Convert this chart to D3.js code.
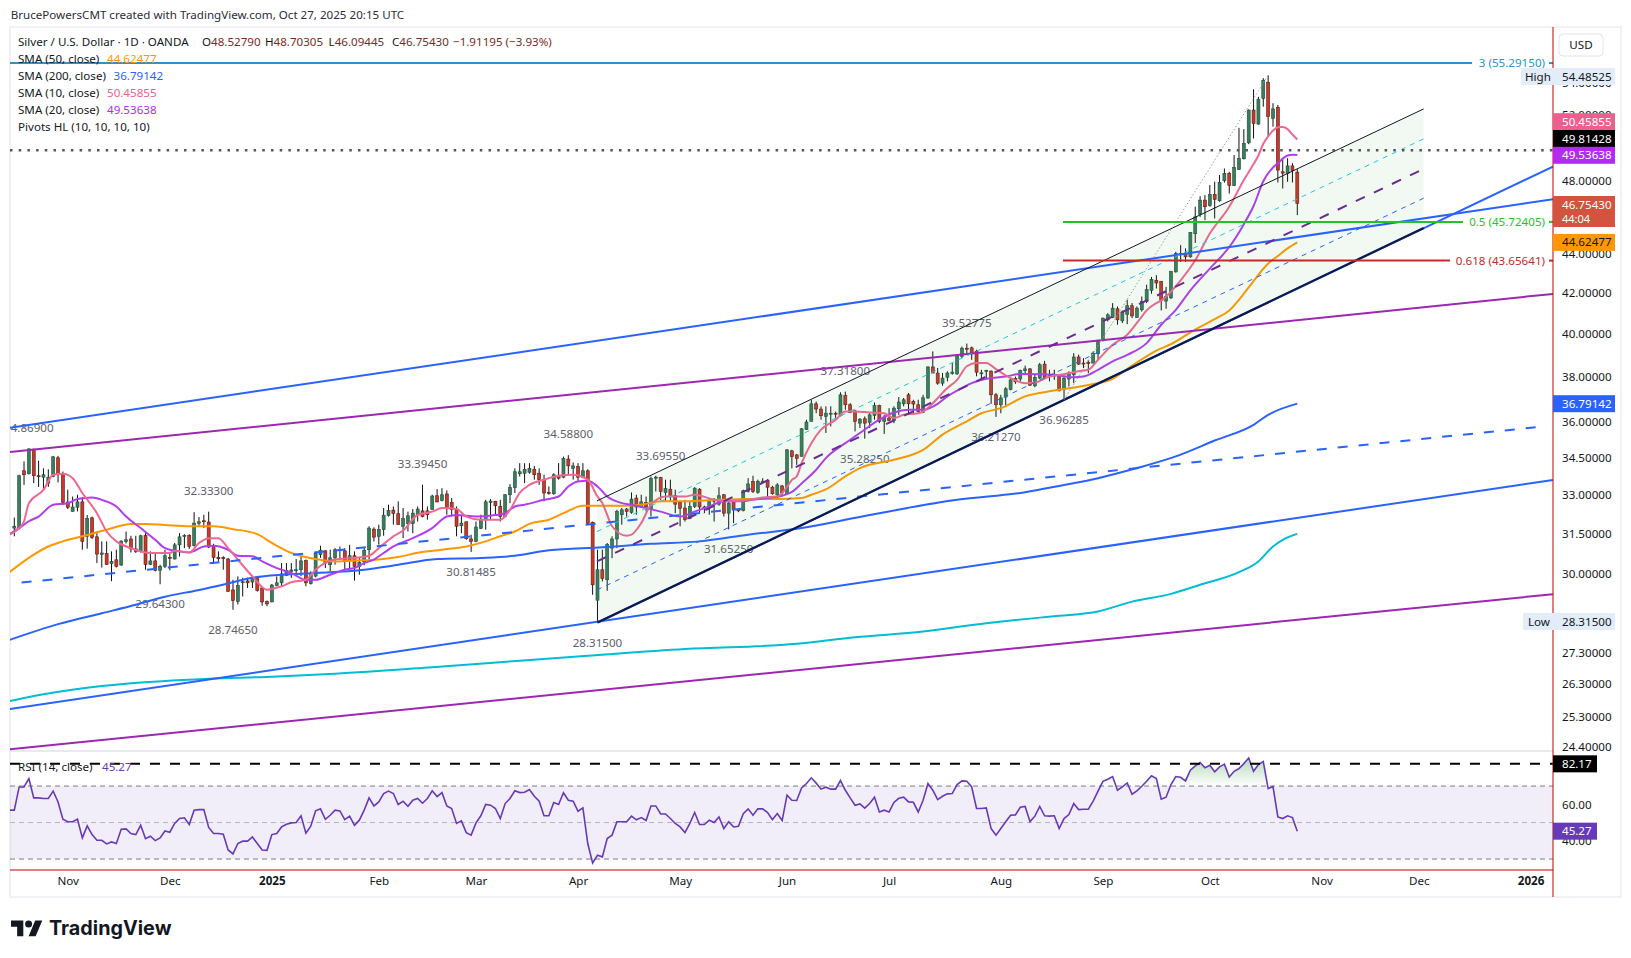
<!DOCTYPE html>
<html>
<head>
<meta charset="utf-8">
<title>Silver / U.S. Dollar</title>
<script src="https://cdnjs.cloudflare.com/ajax/libs/d3/7.8.5/d3.min.js"></script>
<style>
  body { margin: 0; background: #fff; }
  svg text { font-family: "Noto Sans", sans-serif; font-size: 11.6px; fill: #131722; }
</style>
</head>
<body>
<svg id="chart" width="1631" height="958"></svg>
<script>
// daily candles, bar 0 is the first whole candle on the left
var barOpen = [
  31.70,31.70,33.95,33.83,34.84,33.75,33.69,33.45,33.72,34.48,
  33.79,32.70,32.34,32.50,32.71,31.39,32.09,31.37,30.72,30.75,
  30.38,30.52,30.33,31.19,31.29,30.92,30.83,31.42,30.35,30.48,
  30.14,30.28,30.61,30.55,31.07,31.40,31.42,31.04,31.88,31.98,
  31.93,31.01,30.61,30.60,30.55,29.44,29.04,29.71,29.76,29.72,
  29.88,29.51,29.03,29.02,29.59,29.69,29.96,30.09,30.14,30.16,
  30.49,29.66,29.93,30.71,30.85,30.34,30.59,30.87,30.85,30.48,
  30.67,30.27,30.44,30.89,31.66,31.39,31.64,32.18,32.39,32.25,
  31.77,31.87,31.87,32.21,32.36,32.36,32.41,32.95,32.76,33.02,
  32.69,32.43,31.79,31.94,31.29,31.20,31.69,32.02,32.69,32.73,
  32.53,32.14,32.99,33.27,33.83,33.85,33.89,34.01,33.85,33.59,
  33.08,33.03,33.77,33.69,34.43,34.05,34.12,33.69,33.95,31.92,
  29.08,30.16,29.80,30.95,31.29,32.21,32.43,32.30,32.86,32.51,
  32.69,32.43,33.65,33.68,33.08,33.21,32.95,32.69,32.47,32.07,
  32.53,33.21,32.51,32.50,32.79,32.62,32.99,32.27,32.69,32.41,
  32.37,33.12,33.52,33.08,33.50,33.56,33.29,32.99,33.34,33.03,
  34.77,34.60,34.54,35.66,36.02,36.78,36.55,36.23,36.34,36.37,
  36.26,37.15,36.74,36.47,35.94,36.13,35.97,36.27,36.70,36.02,
  36.16,36.06,36.56,36.78,37.18,36.89,36.74,36.40,37.04,38.44,
  38.16,37.70,37.97,38.14,38.12,38.93,39.31,39.33,39.17,38.14,
  38.25,38.25,37.18,36.74,37.08,37.41,37.91,37.89,38.27,38.35,
  37.58,37.93,38.57,38.10,38.07,38.05,37.41,37.89,38.08,38.90,
  38.62,38.66,38.62,39.05,39.71,40.67,40.78,41.21,40.62,40.94,
  41.36,40.78,41.16,41.57,42.13,42.64,42.59,41.59,41.75,43.07,
  43.96,44.03,43.85,45.08,46.15,46.93,46.62,47.24,46.89,48.03,
  48.45,47.76,48.68,49.31,50.26,52.27,51.40,53.00,54.04,51.75,
  52.44,48.55,48.46,48.89,48.5279];
var barClose = [
  31.77,33.75,33.79,34.85,33.75,33.71,33.79,33.69,34.52,33.79,
  32.69,32.50,32.51,32.71,31.20,32.07,31.35,30.73,30.77,30.35,
  30.46,30.28,31.21,31.26,30.92,30.83,31.41,30.35,30.48,30.14,
  30.28,30.67,30.57,31.07,31.37,31.42,31.01,31.89,31.94,31.94,
  30.99,30.61,30.56,30.57,29.39,29.07,29.59,29.73,29.69,29.87,
  29.42,29.02,28.95,29.61,29.69,30.01,30.13,30.15,30.16,30.48,
  29.69,29.98,30.75,30.87,30.40,30.59,30.89,30.89,30.46,30.67,
  30.28,30.43,30.87,31.70,31.36,31.64,32.19,32.37,32.26,31.83,
  32.07,32.17,32.27,32.43,32.14,32.21,32.94,32.71,32.99,32.47,
  32.41,31.77,31.89,31.30,31.20,31.74,32.04,32.71,32.74,32.56,
  32.14,32.99,33.27,33.91,33.91,34.01,34.05,33.79,33.59,33.06,
  33.04,33.79,33.65,34.45,34.15,34.15,33.69,33.95,31.87,29.62,
  30.16,29.84,31.08,31.29,32.33,32.40,32.34,32.82,32.51,32.71,
  32.51,33.63,33.69,33.12,33.24,32.92,32.62,32.46,32.02,32.53,
  33.25,32.51,32.47,32.76,32.74,32.95,32.27,32.66,32.41,32.36,
  33.15,33.42,33.12,33.52,33.53,33.29,33.03,33.38,33.06,34.81,
  34.53,34.46,35.70,35.99,36.78,36.55,36.26,36.37,36.37,36.34,
  37.18,36.74,36.40,36.02,36.11,35.94,36.30,36.70,36.02,36.18,
  36.06,36.59,36.86,36.96,36.78,36.77,36.44,37.05,38.44,38.16,
  37.70,37.93,38.16,38.20,38.96,39.31,39.27,39.08,38.20,38.17,
  38.28,37.18,36.74,37.04,37.45,37.85,37.76,38.28,38.35,37.61,
  37.96,38.54,37.96,38.04,38.04,37.36,37.93,38.16,38.90,38.57,
  38.59,38.59,39.08,39.68,40.75,40.91,41.24,40.67,41.04,41.36,
  40.86,41.24,41.57,42.17,42.69,42.50,41.62,41.82,43.08,44.03,
  44.03,43.85,45.15,46.00,46.93,46.56,47.24,46.97,47.94,48.45,
  47.76,48.80,49.33,50.22,52.27,51.44,52.94,54.17,51.86,52.34,
  48.65,48.47,48.89,48.62,46.7543];
var barHigh = [
  32.10,33.79,34.33,34.87,34.86,34.36,34.05,34.01,34.56,34.56,
  33.92,33.19,32.92,32.99,32.90,32.20,32.14,31.57,31.20,31.20,
  30.83,30.89,31.24,31.57,31.41,31.41,31.45,31.51,30.83,30.77,
  30.34,30.89,30.75,31.14,31.51,31.47,31.47,32.31,32.12,32.21,
  32.33,31.11,30.83,30.65,30.59,29.80,29.92,29.87,29.87,29.92,
  29.92,29.53,29.07,29.65,29.92,30.40,30.40,30.40,30.55,30.73,
  30.53,30.10,30.80,31.04,30.87,30.89,30.95,31.01,30.95,31.07,
  30.83,30.59,30.95,31.77,31.73,31.83,32.47,32.60,32.53,32.73,
  32.47,32.33,32.43,32.53,33.39,32.53,32.99,33.21,33.25,33.16,
  32.86,32.53,32.21,31.95,31.45,31.95,32.21,32.79,32.82,32.75,
  32.79,33.02,33.41,34.05,34.26,34.26,34.26,34.15,34.05,33.79,
  33.32,33.85,34.26,34.53,34.59,34.29,34.26,34.26,34.01,31.95,
  30.89,30.89,31.14,31.39,32.40,32.47,32.47,33.08,32.99,32.99,
  32.92,33.72,33.75,33.70,33.59,33.59,33.19,32.73,32.79,32.73,
  33.29,33.25,32.56,32.86,32.86,33.29,33.02,32.73,32.73,32.43,
  33.19,33.65,33.75,33.59,33.65,33.61,33.34,33.45,33.38,34.84,
  34.81,34.64,35.73,36.09,36.96,36.88,36.67,36.67,36.67,36.44,
  37.29,37.32,36.81,36.52,36.16,36.23,36.37,36.84,36.74,36.30,
  36.59,36.67,37.08,37.04,37.26,36.96,36.96,37.18,38.47,39.16,
  38.39,38.16,38.24,38.62,39.01,39.39,39.53,39.39,39.24,38.31,
  38.31,38.28,37.26,37.18,37.52,37.88,38.00,38.31,38.50,38.39,
  38.08,38.62,38.72,38.31,38.31,38.08,38.00,38.24,39.08,39.01,
  38.85,38.77,39.16,39.71,40.78,40.99,41.49,41.32,41.12,41.66,
  41.49,41.32,41.82,42.41,42.81,42.90,42.60,42.30,43.12,44.12,
  44.47,44.30,45.17,46.56,47.15,47.21,47.78,47.98,48.36,48.74,
  48.55,49.53,51.17,51.09,52.31,53.58,53.10,54.30,54.485,52.70,
  52.59,49.28,49.34,49.05,48.70305];
var barLow = [
  31.39,31.65,33.38,33.80,33.45,33.30,33.16,33.30,33.69,33.48,
  32.60,32.43,32.34,32.34,30.89,30.93,31.29,30.40,30.24,30.34,
  29.75,30.24,30.30,31.12,30.79,30.77,30.79,30.16,30.33,30.10,
  29.64,30.22,30.14,30.53,30.64,30.95,30.92,31.01,31.79,31.70,
  30.95,30.37,30.46,30.16,29.38,28.75,28.93,29.21,29.51,29.51,
  29.38,28.89,28.87,29.01,29.57,29.57,29.93,29.87,30.04,29.93,
  29.57,29.63,29.89,30.59,30.22,30.10,30.34,30.52,30.18,30.16,
  29.77,29.98,30.32,30.53,31.20,31.08,31.41,32.14,31.83,31.83,
  31.32,31.57,31.51,31.95,32.11,32.02,32.41,32.69,32.73,32.21,
  32.14,31.39,31.51,31.26,30.81,31.17,31.66,31.64,32.02,32.21,
  31.95,32.11,32.66,33.06,33.72,33.45,33.83,33.59,33.38,32.73,
  32.99,32.99,33.59,33.65,33.79,33.59,33.52,33.65,31.83,29.27,
  28.315,29.74,29.41,30.58,30.95,31.83,32.14,32.25,32.21,32.47,
  32.34,32.14,33.12,32.79,32.73,32.73,32.27,31.77,31.95,32.04,
  32.47,32.25,32.27,32.21,31.95,32.56,32.14,31.65,31.89,32.31,
  32.34,33.08,33.06,33.03,33.45,32.86,32.99,32.79,32.99,32.99,
  34.05,34.19,34.54,35.66,36.02,36.37,36.09,35.52,35.80,36.16,
  36.23,36.52,36.37,35.59,35.73,35.28,35.73,36.09,35.94,35.48,
  36.02,35.94,36.30,36.67,36.37,36.37,36.40,36.37,37.00,38.16,
  37.63,37.58,37.78,38.08,38.08,38.85,39.08,38.77,38.01,37.93,
  37.93,36.78,36.21,36.37,36.70,37.38,37.67,37.78,38.08,37.58,
  37.52,37.88,37.93,37.78,37.85,37.33,36.96,37.55,37.70,38.54,
  38.39,38.16,38.59,38.77,39.63,40.59,40.75,40.43,40.51,40.46,
  40.75,40.78,41.07,41.49,41.96,42.22,41.13,41.21,41.70,43.03,
  43.58,43.58,43.81,44.59,46.00,45.82,46.56,45.91,46.84,47.92,
  47.30,47.72,48.65,49.27,50.18,50.52,51.36,52.48,50.64,51.24,
  47.93,47.59,47.97,47.93,46.09445];

// moving averages, read at the turning points of each line
var sma10Bars = [-1,1,2,3,6,8,10,12,14,17,19,21,24,27,29,32,33,36,38,40,42,44,46,49,52,55,57,60,62,66,
  70,73,75,78,80,83,86,88,91,93,96,100,102,104,106,109,112,115,118,120,121,122,123,126,127,129,131,134,138,140,
  144,147,151,154,157,159,160,161,162,164,166,169,171,173,176,179,181,183,186,187,189,192,194,196,198,200,202,205,208,210,
  213,216,219,221,223,226,229,232,233,235,236,240,243,246,250,253,255,256,257,258,259,260,261,262,263,264];
var sma10Values = [31.45,31.70,31.96,32.66,33.18,33.79,33.83,33.65,33.06,32.27,31.57,31.20,30.95,30.79,30.77,30.77,30.85,30.79,31.14,31.32,31.32,30.95,30.53,29.92,29.45,29.57,29.71,29.80,30.16,30.53,
  30.59,30.67,30.95,31.39,31.61,32.20,32.33,32.47,32.43,32.14,32.02,32.02,32.40,33.06,33.38,33.59,33.75,33.79,33.59,32.92,32.66,32.20,31.77,31.41,31.45,31.89,32.60,32.92,32.92,32.99,
  32.79,32.73,32.79,32.88,32.92,33.30,33.58,33.72,34.26,35.09,35.66,36.08,36.44,36.44,36.40,36.37,36.16,36.30,36.37,36.44,36.81,37.48,37.85,38.47,38.62,38.62,38.34,37.93,37.70,37.73,
  38.00,38.11,38.24,38.31,38.77,39.47,39.95,40.83,41.13,41.49,41.62,42.64,43.67,45.09,46.56,48.07,49.00,49.50,50.20,50.65,51.00,51.20,51.22,51.09,50.76,50.46];
var sma20Bars = [-1,1,3,5,8,11,13,16,18,21,23,26,29,31,34,36,39,41,44,46,49,51,54,57,60,62,65,68,70,72,
  74,76,78,82,86,89,91,95,99,101,103,105,109,112,114,116,118,120,122,125,127,130,133,137,140,143,146,149,152,155,
  158,160,162,165,167,171,174,178,181,184,187,190,192,195,197,201,204,207,211,214,218,220,223,226,229,233,236,239,242,246,
  250,253,255,257,259,260,262,263,264];
var sma20Values = [31.47,31.70,31.96,32.14,32.60,32.66,32.82,32.88,32.79,32.53,32.14,31.70,31.26,30.95,30.83,30.79,31.01,31.04,30.89,30.67,30.65,30.46,30.22,30.04,29.80,29.80,29.98,30.16,30.22,30.40,
  30.53,30.77,31.01,31.32,31.70,32.14,32.20,32.14,32.20,32.27,32.53,32.60,32.79,32.92,33.32,33.52,33.55,33.32,32.92,32.66,32.60,32.47,32.33,32.14,32.33,32.53,32.73,32.73,32.79,32.86,
  32.95,33.10,33.44,33.99,34.47,35.09,35.52,36.09,36.40,36.52,36.52,36.78,37.11,37.48,37.70,37.93,38.00,38.12,38.11,38.08,37.97,38.00,38.31,38.70,39.00,39.55,40.43,41.16,42.13,43.24,
  44.37,45.60,46.60,48.00,48.80,49.05,49.50,49.55,49.54];
var sma50Bars = [-1,4,7,10,14,19,24,27,31,36,41,45,50,53,57,62,66,70,75,79,83,88,93,97,100,103,106,110,113,117,
  121,125,129,133,138,145,151,157,162,164,167,171,174,181,187,191,196,199,203,208,214,221,226,230,235,238,243,247,250,253,
  255,258,260,262,264];
var sma50Values = [30.07,30.71,31.01,31.20,31.39,31.64,31.86,31.86,31.82,31.77,31.77,31.66,31.47,31.14,30.77,30.55,30.46,30.49,30.53,30.62,30.78,30.89,31.01,31.20,31.39,31.57,31.86,32.02,32.27,32.56,
  32.56,32.56,32.60,32.73,32.73,32.79,32.82,32.82,32.86,32.99,33.20,33.72,34.06,34.40,34.81,35.45,36.02,36.37,36.59,37.11,37.37,37.62,37.90,38.50,39.20,39.50,40.20,40.70,41.13,41.96,
  42.60,43.50,43.90,44.30,44.62];
var sma200Bars = [-1,9,18,25,31,38,44,49,55,62,72,79,87,96,103,110,121,131,141,151,162,176,194,208,215,223,231,239,247,255,258,264];
var sma200Values = [27.73,28.26,28.63,28.92,29.20,29.44,29.67,29.87,29.98,30.04,30.16,30.34,30.55,30.59,30.67,30.87,30.98,31.11,31.20,31.45,31.70,32.20,32.79,33.09,33.34,33.65,34.06,34.54,35.20,35.87,36.30,36.79];
var tealBars = [-1,4,13,24,40,52,66,86,104,118,138,161,173,187,200,211,215,223,230,238,244,252,256,259,261,264];
var tealValues = [25.77,25.93,26.15,26.33,26.47,26.53,26.63,26.84,27.05,27.21,27.43,27.60,27.82,28.01,28.29,28.48,28.54,28.69,29.03,29.30,29.62,30.07,30.46,31.01,31.26,31.48];

// RSI pane, first value belongs to bar -1
var rsiValues = [56.8,56.8,69.5,69.5,74.1,63.5,63.5,63.2,63.2,67.2,61.3,51.8,50.4,50.4,51.8,41.6,48.2,43.4,40.3,40.3,
  38.3,39.4,38.5,46.3,46.5,44.0,43.4,48.5,41.2,42.5,40.1,41.6,45.4,44.7,49.5,52.2,52.6,48.9,56.8,57.1,
  57.1,47.3,44.0,44.0,43.6,35.0,32.8,38.5,39.8,39.8,42.1,38.5,35.0,34.8,43.4,44.0,47.6,49.1,49.8,50.0,
  53.7,44.2,48.0,56.4,57.5,51.8,54.0,56.8,56.4,51.6,53.5,48.5,51.3,56.8,63.5,59.1,61.3,65.9,67.2,65.9,
  59.9,61.7,58.9,62.2,63.2,60.6,63.2,67.4,64.2,66.4,59.1,57.7,49.5,50.9,44.5,43.1,49.8,53.7,59.9,59.5,
  57.7,52.2,60.4,63.2,67.4,66.4,66.6,68.1,64.4,61.7,53.7,53.7,61.0,59.9,66.3,62.2,61.7,56.2,58.0,38.5,
  27.9,32.1,31.2,41.2,43.1,50.4,50.4,50.4,53.5,51.5,52.7,51.1,59.1,59.1,54.7,54.7,52.2,49.5,47.6,44.5,
  49.5,55.5,48.9,48.9,51.3,50.0,53.1,46.7,50.4,47.6,48.0,54.9,57.5,54.0,57.5,57.5,55.5,51.6,54.9,51.1,
  65.0,62.2,62.1,69.0,71.4,74.5,71.6,68.3,69.4,68.3,68.3,73.0,67.7,63.5,59.5,60.2,57.9,60.4,63.9,55.8,
  56.8,55.8,61.0,63.3,63.9,61.3,61.1,55.8,62.2,71.4,67.7,62.6,64.4,65.7,65.9,70.8,72.8,72.6,69.5,57.7,
  57.7,58.0,46.7,43.1,46.7,50.4,54.0,54.2,58.4,58.8,50.5,53.5,58.8,53.7,53.5,53.7,46.7,52.2,54.4,60.4,
  57.1,57.3,57.3,61.7,67.2,72.6,73.7,75.2,67.7,69.5,71.7,65.5,67.4,69.9,72.6,75.6,74.1,62.8,63.9,70.8,
  75.2,74.8,72.8,78.7,81.0,82.9,80.0,81.4,77.8,80.5,82.0,75.0,78.1,79.6,82.3,85.4,78.1,81.8,83.4,68.6,
  69.7,53.1,52.2,53.7,52.7,45.27];
var rsiTicks = [60, 40];
var rsiBands = [70, 50, 30];
var rsiLevel = 82.17;

// pivot labels
var pivotHighBars = [3, 40, 84, 114, 133, 171, 196];
var pivotHighs = [34.869, 32.333, 33.3945, 34.588, 33.6955, 37.318, 39.52775];
var pivotLowBars = [30, 45, 94, 120, 147, 175, 202, 216];
var pivotLows = [29.643, 28.7465, 30.81485, 28.315, 31.6525, 35.2825, 36.2127, 36.96285];

// axes, 50 and 46 sit behind the price tags in the original
var priceTicks = [54, 52, 48, 44, 42, 40, 38, 36, 34.5, 33, 31.5, 30, 28.5, 27.3, 26.3, 25.3, 24.4];
var monthBars = [11, 32, 53, 75, 95, 116, 137, 159, 180, 203, 224, 246, 269, 289, 312];
var monthNames = ["Nov", "Dec", "2025", "Feb", "Mar", "Apr", "May", "Jun", "Jul", "Aug", "Sep", "Oct", "Nov", "Dec", "2026"];

// hand drawn trend lines: [bar, price, bar, price]
var channelTop = [119.9, 32.75, 290, 52.34];
var channelUpperMid = [119.9, 31.57, 290, 50.50];
var channelMid = [119.9, 30.46, 289.6, 48.66];
var channelLowerMid = [119.9, 29.44, 290, 47.04];
var channelBottom = [120, 28.315, 290, 45.39];
var blueSteep = [120, 28.315, 316.6, 48.85];
var blueUpper = [-1, 35.74, 316.6, 46.98];
var blueLower = [-1, 25.53, 316.6, 33.58];
var blueDashed = [1.5, 29.70, 314.3, 35.79];
var purpleUpper = [-1, 34.72, 316.6, 41.95];
var purpleLower = [-1, 24.33, 316.6, 29.29];
var swingDotted = [216, 36.96285, 258, 54.485];
var dottedLevel = 49.81428;
var fibValues = [55.2915, 45.72405, 43.65641];
var fibNames = ["3 (55.29150)", "0.5 (45.72405)", "0.618 (43.65641)"];

var svg = d3.select("#chart");

var left = 10, right = 1553, priceTop = 28, priceBottom = 751, rsiBottom = 870, frameBottom = 897;
var green = "#3a7d5c", red = "#c8392b";

var x = d3.scaleLinear().domain([0, 264]).range([14.3, 1297.3]);
var y = d3.scaleLog().domain([24.28, 57.66]).range([priceBottom, priceTop]);
var yRsi = d3.scaleLinear().domain([24, 89.2]).range([rsiBottom, priceBottom]);

var defs = svg.append("defs");
defs.append("clipPath").attr("id", "priceClip").append("rect")
  .attr("x", left).attr("y", priceTop).attr("width", right - left).attr("height", priceBottom - priceTop);
defs.append("clipPath").attr("id", "rsiClip").append("rect")
  .attr("x", left).attr("y", priceBottom).attr("width", right - left).attr("height", rsiBottom - priceBottom);
var grad = defs.append("linearGradient").attr("id", "obGrad").attr("gradientUnits", "userSpaceOnUse")
  .attr("x1", 0).attr("x2", 0).attr("y1", yRsi(85)).attr("y2", yRsi(70));
grad.append("stop").attr("offset", 0).attr("stop-color", "#43a047").attr("stop-opacity", 0.38);
grad.append("stop").attr("offset", 1).attr("stop-color", "#43a047").attr("stop-opacity", 0);

// frame
svg.append("rect").attr("x", left).attr("y", 27).attr("width", 1621 - left).attr("height", frameBottom - 27)
  .attr("fill", "none").attr("stroke", "#e0e3eb");
svg.append("line").attr("x1", left).attr("x2", right).attr("y1", priceBottom).attr("y2", priceBottom)
  .attr("stroke", "#e0e3eb").attr("stroke-width", 1.5);

var pricePane = svg.append("g").attr("clip-path", "url(#priceClip)");

// candles
var bars = d3.range(barOpen.length);
pricePane.append("g").selectAll("line").data(bars).enter().append("line")
  .attr("x1", function(i) { return x(i); }).attr("x2", function(i) { return x(i); })
  .attr("y1", function(i) { return y(barHigh[i]); }).attr("y2", function(i) { return y(barLow[i]); })
  .attr("stroke", "#111").attr("stroke-width", 1);
pricePane.append("g").selectAll("rect").data(bars).enter().append("rect")
  .attr("x", function(i) { return x(i) - 1.5; })
  .attr("width", 3)
  .attr("y", function(i) { return y(Math.max(barOpen[i], barClose[i])); })
  .attr("height", function(i) { return Math.max(1, Math.abs(y(barOpen[i]) - y(barClose[i]))); })
  .attr("fill", function(i) { return barClose[i] >= barOpen[i] ? green : red; })
  .attr("stroke", function(i) { return barClose[i] >= barOpen[i] ? "#1f4d38" : "#5a1a12"; })
  .attr("stroke-width", 0.6);

// pivot labels
var pivotG = pricePane.append("g");
pivotHighs.forEach(function(p, k) {
  pivotG.append("text").attr("x", x(pivotHighBars[k])).attr("y", y(p) - 21).attr("dy", ".35em")
    .attr("text-anchor", "middle").style("fill", "#5d606b").text(p.toFixed(5));
});
pivotLows.forEach(function(p, k) {
  pivotG.append("text").attr("x", x(pivotLowBars[k])).attr("y", y(p) + 20).attr("dy", ".35em")
    .attr("text-anchor", "middle").style("fill", "#5d606b").text(p.toFixed(5));
});

// moving averages
function maLine(barsList, values, color) {
  var line = d3.line().x(function(d) { return x(d[0]); }).y(function(d) { return y(d[1]); })
    .curve(d3.curveMonotoneX);
  pricePane.append("path").datum(d3.zip(barsList, values)).attr("d", line)
    .attr("fill", "none").attr("stroke", color).attr("stroke-width", 2);
}
maLine(tealBars, tealValues, "#00bcd4");
maLine(sma200Bars, sma200Values, "#2962ff");
maLine(sma50Bars, sma50Values, "#ff9800");
maLine(sma20Bars, sma20Values, "#b23cf2");
maLine(sma10Bars, sma10Values, "#f06792");

// channel drawing
function corner(t) { return [[x(t[0]), y(t[1])], [x(t[2]), y(t[3])]]; }
var topPts = corner(channelTop), botPts = corner(channelBottom);
pricePane.append("path")
  .attr("d", d3.line()([topPts[0], topPts[1], botPts[1], botPts[0]]) + "Z")
  .attr("fill", "#4caf50").attr("fill-opacity", 0.07);

function trend(t, color, width, dash) {
  var pts = corner(t);
  pricePane.append("line")
    .attr("x1", pts[0][0]).attr("y1", pts[0][1]).attr("x2", pts[1][0]).attr("y2", pts[1][1])
    .attr("stroke", color).attr("stroke-width", width).attr("stroke-dasharray", dash || null);
}
trend(purpleUpper, "#9c27b0", 2);
trend(purpleLower, "#9c27b0", 2);
trend(blueUpper, "#2962ff", 2);
trend(blueLower, "#2962ff", 2);
trend(blueDashed, "#2962ff", 2, "10,11");
trend(blueSteep, "#2962ff", 2);
trend(channelUpperMid, "#26c6da", 1, "5,5");
trend(channelLowerMid, "#2962ff", 1, "5,5");
trend(channelMid, "#6a2c91", 2, "10,10");
trend(channelTop, "#131722", 1);
trend(channelBottom, "#0d1b4c", 2.2);
trend(swingDotted, "#9e9e9e", 1, "1.5,2");

// horizontal levels
pricePane.append("line").attr("x1", left).attr("x2", right).attr("y1", y(dottedLevel)).attr("y2", y(dottedLevel))
  .attr("stroke", "#555").attr("stroke-width", 2.5).attr("stroke-dasharray", "2.5,6.2");
var fibColors = ["#2a93c9", "#22c32a", "#c62828"];
var fibStart = [left, 1063, 1063], fibEnd = [1472, 1463, 1450];
fibValues.forEach(function(v, k) {
  pricePane.append("line").attr("x1", fibStart[k]).attr("x2", fibEnd[k]).attr("y1", y(v)).attr("y2", y(v))
    .attr("stroke", fibColors[k]).attr("stroke-width", 2);
  pricePane.append("line").attr("x1", 1549).attr("x2", right).attr("y1", y(v)).attr("y2", y(v))
    .attr("stroke", fibColors[k]).attr("stroke-width", 2);
  pricePane.append("text").attr("x", 1545).attr("y", y(v)).attr("dy", ".35em").attr("text-anchor", "end")
    .style("fill", fibColors[k]).text(fibNames[k]);
});

// RSI pane
var rsiPane = svg.append("g").attr("clip-path", "url(#rsiClip)");
rsiPane.append("rect").attr("x", left).attr("width", right - left)
  .attr("y", yRsi(70)).attr("height", yRsi(30) - yRsi(70)).attr("fill", "#7e57c2").attr("fill-opacity", 0.1);
rsiBands.forEach(function(b) {
  rsiPane.append("line").attr("x1", left).attr("x2", right).attr("y1", yRsi(b)).attr("y2", yRsi(b))
    .attr("stroke", b === 50 ? "#b2b5be" : "#787b86").attr("stroke-dasharray", "5,4");
});
var rsiArea = d3.area().x(function(d, i) { return x(i - 1); })
  .y0(yRsi(70)).y1(function(d) { return yRsi(Math.max(d, 70)); });
rsiPane.append("path").datum(rsiValues).attr("d", rsiArea).attr("fill", "url(#obGrad)");
rsiPane.append("path").datum(rsiValues)
  .attr("d", d3.line().x(function(d, i) { return x(i - 1); }).y(function(d) { return yRsi(d); }))
  .attr("fill", "none").attr("stroke", "#673ab7").attr("stroke-width", 1.6);
rsiPane.append("line").attr("x1", left).attr("x2", right).attr("y1", yRsi(rsiLevel)).attr("y2", yRsi(rsiLevel))
  .attr("stroke", "#000").attr("stroke-width", 2).attr("stroke-dasharray", "10,10");
svg.append("line").attr("x1", left).attr("x2", right).attr("y1", rsiBottom).attr("y2", rsiBottom)
  .attr("stroke", "#c00000").attr("stroke-width", 1);

// axes
var priceAxis = d3.axisRight(y).tickValues(priceTicks).tickFormat(d3.format(".5f")).tickSize(0).tickPadding(9);
svg.append("g").attr("transform", "translate(" + right + ",0)").call(priceAxis)
  .call(function(g) { g.select(".domain").remove(); });
var rsiAxis = d3.axisRight(yRsi).tickValues(rsiTicks).tickFormat(d3.format(".2f")).tickSize(0).tickPadding(9);
svg.append("g").attr("transform", "translate(" + right + ",0)").call(rsiAxis)
  .call(function(g) { g.select(".domain").remove(); });
var timeAxis = d3.axisBottom(x).tickValues(monthBars)
  .tickFormat(function(d) { return monthNames[monthBars.indexOf(d)]; }).tickSize(0).tickPadding(7);
svg.append("g").attr("transform", "translate(0," + rsiBottom + ")").call(timeAxis)
  .call(function(g) { g.select(".domain").remove(); })
  .selectAll("text").attr("font-weight", function(d, i) { return monthNames[i].length === 4 ? 700 : 400; });
svg.selectAll(".tick text").style("font-size", "11.6px");
svg.append("line").attr("x1", right).attr("x2", right).attr("y1", 27).attr("y2", frameBottom)
  .attr("stroke", "#c00000").attr("stroke-width", 1);

// price tags on the scale
function tag(centre, label, fill, textFill, w) {
  svg.append("rect").attr("x", right).attr("y", centre - 8.5).attr("width", w || 62).attr("height", 17).attr("fill", fill);
  svg.append("text").attr("x", right + 9).attr("y", centre).attr("dy", ".35em").style("fill", textFill).text(label);
}
svg.append("rect").attr("x", 1521).attr("y", 68).attr("width", 32).attr("height", 17).attr("fill", "#e3edf9");
svg.append("text").attr("x", 1525).attr("y", 76.5).attr("dy", ".35em").style("fill", "#131722").text("High");
tag(76.5, d3.format(".5f")(54.48525), "#e3edf9", "#131722");
svg.append("rect").attr("x", 1523).attr("y", 613).attr("width", 30).attr("height", 17).attr("fill", "#e3edf9");
svg.append("text").attr("x", 1528).attr("y", 621.5).attr("dy", ".35em").style("fill", "#131722").text("Low");
tag(621.5, "28.31500", "#e3edf9", "#131722");
tag(121.7, "50.45855", "#ec5f8f", "#fff");
tag(138.5, "49.81428", "#000", "#fff");
tag(155.3, "49.53638", "#b02cf5", "#fff");
svg.append("rect").attr("x", right).attr("y", 196).attr("width", 62).attr("height", 31).attr("fill", "#d2533e");
svg.append("text").attr("x", right + 9).attr("y", 204.5).attr("dy", ".35em").style("fill", "#fff").text("46.75430");
svg.append("text").attr("x", right + 9).attr("y", 219).attr("dy", ".35em").style("fill", "#fff").style("font-size", "11px").text("44:04");
tag(242.4, "44.62477", "#ff9800", "#131722");
tag(403.7, "36.79142", "#2962ff", "#fff");
tag(yRsi(rsiLevel), "82.17", "#000", "#fff", 44);
tag(yRsi(45.27), "45.27", "#673ab7", "#fff", 44);

// USD button
svg.append("rect").attr("x", 1559).attr("y", 34).attr("width", 44).attr("height", 22).attr("rx", 4)
  .attr("fill", "#fff").attr("stroke", "#e0e3eb");
svg.append("text").attr("x", 1581).attr("y", 45).attr("dy", ".35em").attr("text-anchor", "middle").text("USD");

// header and legend
svg.append("text").attr("x", 10.7).attr("y", 15).attr("dy", ".35em").style("fill", "#2a2e39")
  .text("BrucePowersCMT created with TradingView.com, Oct 27, 2025 20:15 UTC");
var darkRed = "#7c2b23";
svg.append("text").attr("x", 18).attr("y", 41.7).attr("dy", ".35em").text("Silver / U.S. Dollar \u00b7 1D \u00b7 OANDA");
var ohlcLabels = ["O", "H", "L", "C"], ohlcText = ["48.52790", "48.70305", "46.09445", "46.75430"], ohlcX = [202, 265, 328.6, 392];
ohlcLabels.forEach(function(l, k) {
  var t = svg.append("text").attr("x", ohlcX[k]).attr("y", 41.7).attr("dy", ".35em").text(l);
  t.append("tspan").style("fill", darkRed).text(ohlcText[k]);
});
svg.append("text").attr("x", 453).attr("y", 41.7).attr("dy", ".35em").style("fill", darkRed).text("\u22121.91195 (\u22123.93%)");
var legendNames = ["SMA (50, close)", "SMA (200, close)", "SMA (10, close)", "SMA (20, close)"];
var legendValues = ["44.62477", "36.79142", "50.45855", "49.53638"];
var legendColors = ["#ff9800", "#2962ff", "#ec5f8f", "#b02cf5"];
var legendY = [58.7, 76, 93, 109.7], legendX = [107, 113.6, 107, 107];
legendNames.forEach(function(n, k) {
  svg.append("text").attr("x", 18).attr("y", legendY[k]).attr("dy", ".35em").text(n);
  svg.append("text").attr("x", legendX[k]).attr("y", legendY[k]).attr("dy", ".35em").style("fill", legendColors[k]).text(legendValues[k]);
});
svg.append("text").attr("x", 18).attr("y", 126.7).attr("dy", ".35em").text("Pivots HL (10, 10, 10, 10)");
svg.append("text").attr("x", 18).attr("y", 767).attr("dy", ".35em").text("RSI (14, close)");
svg.append("text").attr("x", 102).attr("y", 767).attr("dy", ".35em").style("fill", "#673ab7").text("45.27");

// logo
var logo = svg.append("g").attr("transform", "translate(11,917) scale(0.88)").attr("fill", "#131722");
logo.append("path").attr("d", "M14 22H7V11H0V4h14v18zM28 22h-8l7.5-18h8L28 22z");
logo.append("circle").attr("cx", 20).attr("cy", 8).attr("r", 4);
svg.append("text").attr("x", 49).attr("y", 928).attr("dy", ".35em").attr("font-weight", 700)
  .style("font-family", "Inter, sans-serif").style("font-size", "19.8px").text("TradingView");
</script>
</body>
</html>
